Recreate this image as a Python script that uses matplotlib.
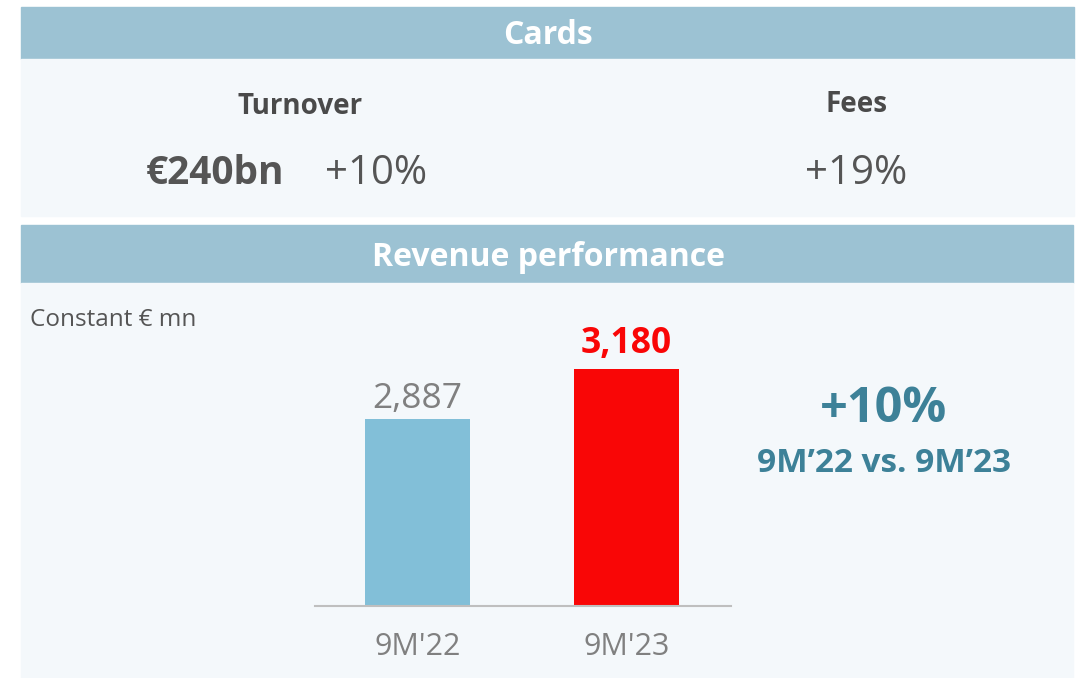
import matplotlib.pyplot as plt
from matplotlib.patches import Rectangle

plt.rcParams["font.family"] = ["Open Sans", "DejaVu Sans"]

# revenue, constant EUR mn
periods = ["9M'22", "9M'23"]
revenue = [2887, 3180]
bar_colors = ["#82BFD8", "#F90606"]
label_colors = ["#808080", "#F90606"]
label_weights = ["normal", "bold"]

turnover = "€240bn"
turnover_growth = "+10%"
fees_growth = "+19%"
revenue_growth = "+10%"

W, H = 1084, 678
fig = plt.figure(figsize=(W / 100, H / 100), dpi=100)
fig.patch.set_facecolor("white")

HEADER = "#9CC2D3"
PANEL = "#F4F8FB"
DARK = "#4A4A4A"
GREY = "#808080"
TEAL = "#3D8198"


def box(x0, y0, x1, y1, color):
    # pixel box, measured from the top-left corner
    fig.patches.append(Rectangle((x0 / W, 1 - y1 / H), (x1 - x0) / W, (y1 - y0) / H,
                                 transform=fig.transFigure, color=color, zorder=-10))


def txt(x, y, s, **kw):
    fig.text(x / W, 1 - y / H, s, ha=kw.pop("ha", "center"), va=kw.pop("va", "center"), **kw)


# Cards block
box(21, 7, 1074, 59, HEADER)
box(21, 59, 1074, 216, PANEL)
txt(548, 36, "Cards", color="white", fontsize=23, fontweight="bold")
txt(300, 106, "Turnover", color=DARK, fontsize=20, fontweight="bold")
txt(856, 105, "Fees", color=DARK, fontsize=20, fontweight="bold")
txt(215, 174, turnover, color="#555555", fontsize=28, fontweight="bold")
txt(376, 174, turnover_growth, color="#555555", fontsize=29)
txt(856, 174, fees_growth, color="#555555", fontsize=29)

# Revenue block
box(21, 225, 1073, 283, HEADER)
box(21, 283, 1073, 678, PANEL)
txt(548, 258, "Revenue performance", color="white", fontsize=23, fontweight="bold")
txt(30, 320, "Constant € mn", color="#555555", fontsize=17.5, ha="left")
txt(884, 410, revenue_growth, color=TEAL, fontsize=35, fontweight="bold")
txt(884, 464, "9M’22 vs. 9M’23", color=TEAL, fontsize=24, fontweight="bold")

ax = fig.add_axes([315 / W, 1 - 606 / H, (731 - 315) / W, (606 - 300) / H])
ax.set_zorder(5)
ax.set_facecolor("none")
x = list(range(len(periods)))
ax.bar(x, revenue, width=0.5, color=bar_colors, zorder=2)
ax.set_xlim(-0.49, 1.5)
ax.set_ylim(1791, 3585)

for i, v in enumerate(revenue):
    ax.annotate(f"{v:,}", (i, v), xytext=(0, 2 if i == 0 else 5), textcoords="offset points",
                ha="center", va="bottom", fontsize=25.5, color=label_colors[i],
                fontweight=label_weights[i])

ax.set_xticks(x, periods, fontsize=22, color=GREY)
ax.tick_params(axis="x", length=0, pad=19)
ax.set_yticks([])
for side in ["top", "left", "right"]:
    ax.spines[side].set_visible(False)
ax.spines["bottom"].set_color("#BFBFBF")
ax.spines["bottom"].set_linewidth(1.5)

fig.savefig("out.png", dpi=100, facecolor=fig.get_facecolor())
